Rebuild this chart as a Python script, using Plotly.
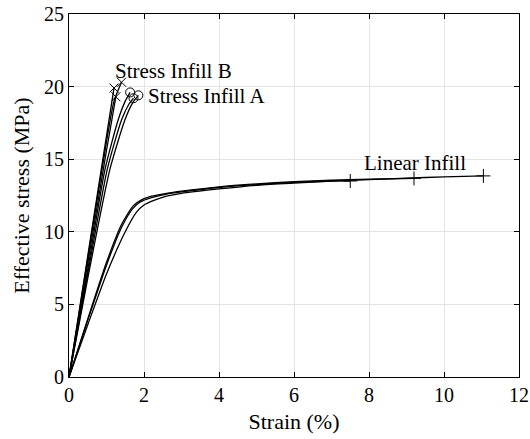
import plotly.graph_objects as go

# ---- data (strain in %, effective stress in MPa) ----
lin_a_strain = [0, 0.5, 1.0, 1.4, 1.7, 1.9, 2.2, 2.6, 3, 4, 5, 6, 7, 7.5]
lin_a_stress = [0, 3.9, 7.7, 10.3, 11.6, 12.05, 12.35, 12.6, 12.75, 13.05, 13.25, 13.4, 13.5, 13.5]
lin_b_strain = [0, 0.5, 1.0, 1.4, 1.7, 1.9, 2.2, 2.6, 3, 4, 5, 6, 7, 8, 9.2]
lin_b_stress = [0, 4.0, 7.9, 10.5, 11.75, 12.15, 12.45, 12.65, 12.8, 13.1, 13.3, 13.45, 13.55, 13.62, 13.68]
lin_c_strain = [0, 0.5, 1.0, 1.5, 1.8, 2.0, 2.3, 2.6, 3, 4, 5, 6, 7, 8, 9, 10, 11.05]
lin_c_stress = [0, 3.6, 7.1, 10.0, 11.35, 11.85, 12.2, 12.45, 12.65, 12.95, 13.2, 13.35, 13.5, 13.6, 13.7, 13.78, 13.85]

sa1_strain = [0, 0.5, 0.96, 1.31, 1.5, 1.63]
sa1_stress = [0, 7.4, 14.3, 17.7, 19.0, 19.6]
sa2_strain = [0, 0.5, 1.02, 1.4, 1.6, 1.72]
sa2_stress = [0, 7.1, 14.3, 17.7, 18.8, 19.2]
sa3_strain = [0, 0.5, 1.09, 1.49, 1.7, 1.85]
sa3_stress = [0, 6.8, 14.3, 17.7, 18.9, 19.4]

sb1_strain = [0, 0.6, 1.0, 1.2]
sb1_stress = [0, 10.0, 16.6, 19.9]
sb2_strain = [0, 0.6, 1.0, 1.25]
sb2_stress = [0, 9.4, 15.6, 19.3]
sb3_strain = [0, 0.6, 1.0, 1.2, 1.4]
sb3_stress = [0, 9.8, 16.2, 19.0, 20.3]

x_ticks = [0, 2, 4, 6, 8, 10, 12]
y_ticks = [0, 5, 10, 15, 20, 25]

label_b = "Stress Infill B"
label_a = "Stress Infill A"
label_lin = "Linear Infill"

FONT = "Liberation Serif"

fig = go.Figure()

groups = [
    ([(lin_a_strain, lin_a_stress), (lin_b_strain, lin_b_stress), (lin_c_strain, lin_c_stress)], "cross-thin-open", 10),
    ([(sa1_strain, sa1_stress), (sa2_strain, sa2_stress), (sa3_strain, sa3_stress)], "circle-open", 9),
    ([(sb1_strain, sb1_stress), (sb2_strain, sb2_stress), (sb3_strain, sb3_stress)], "x-thin-open", 9),
]

for curves, sym, size in groups:
    for xs, ys in curves:
        fig.add_trace(go.Scatter(
            x=xs, y=ys, mode="lines",
            line=dict(color="black", width=1.3, shape="spline", smoothing=0.6),
            showlegend=False, hoverinfo="skip"))
        fig.add_trace(go.Scatter(
            x=[xs[-1]], y=[ys[-1]], mode="markers",
            marker=dict(symbol=sym, size=size, color="black",
                        line=dict(color="black", width=1)),
            showlegend=False, hoverinfo="skip"))

ann_font = dict(family=FONT, size=21)
fig.add_annotation(x=1.17, y=21.1, text=label_b, showarrow=False,
                   xanchor="left", yanchor="middle", font=ann_font)
fig.add_annotation(x=2.05, y=19.35, text=label_a, showarrow=False,
                   xanchor="left", yanchor="middle", font=ann_font)
fig.add_annotation(x=7.8, y=14.75, text=label_lin, showarrow=False,
                   xanchor="left", yanchor="middle", font=ann_font)

axis_common = dict(
    showline=True, linecolor="black", linewidth=1, mirror="ticks",
    ticks="inside", ticklen=5, tickcolor="black", tickwidth=1,
    showgrid=True, gridcolor="#e3e3e3", gridwidth=1,
    zeroline=False, tickfont=dict(family=FONT, size=20),
)

fig.update_xaxes(range=[0, 12], tickvals=x_ticks, ticktext=[str(v) for v in x_ticks],
                 title=dict(text="Strain (%)", font=dict(family=FONT, size=22), standoff=8),
                 **axis_common)
fig.update_yaxes(range=[0, 25], tickvals=y_ticks, ticktext=[str(v) for v in y_ticks],
                 title=dict(text="Effective stress (MPa)", font=dict(family=FONT, size=22), standoff=8),
                 **axis_common)

fig.update_layout(
    template="none",
    width=530, height=439,
    margin=dict(l=69, r=11, t=14, b=62, autoexpand=False),
    plot_bgcolor="white", paper_bgcolor="white",
    font_color="black",
)

fig.write_html("out.html")
